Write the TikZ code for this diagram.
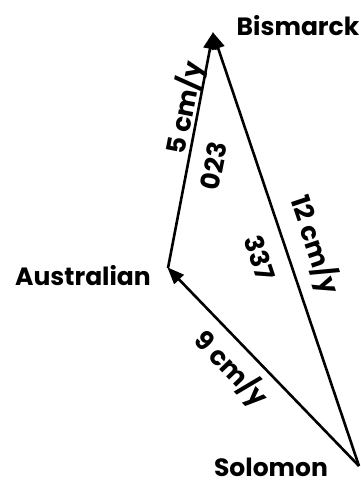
\documentclass[tikz,border=0pt]{standalone}
\usepackage{fontspec}
\setmainfont{Poppins}
\usetikzlibrary{arrows.meta}

\begin{document}
\begin{tikzpicture}[
    x=1pt, y=-1pt,
    place/.style={font=\fontsize{25}{28}\selectfont\bfseries, inner sep=0pt},
    rate/.style={font=\fontsize{26}{28}\selectfont\bfseries, inner sep=0pt},
    motion/.style={-{Triangle[length=17pt,width=13pt]}, line width=2.6pt, shorten >=-1pt}
  ]
    \useasboundingbox (0,0) rectangle (361,485);
    \coordinate (bis) at (213,33);
    \coordinate (aus) at (168,268);
    \coordinate (sol) at (359,466);
    \node[place] (bisname) at (298,26) {Bismarck};
    \node[place] (ausname) at (83,276) {Australian};
    \node[place] (solname) at (271,467) {Solomon};
    \draw[motion] (aus) -- (bis);
    \draw[motion] (sol) -- (bis);
    \draw[motion] (sol) -- (aus);
    \node[rate, rotate=79] (r5) at (185,108) {5 cm/y};
    \node[rate, rotate=79] (a023) at (214,166) {023};
    \node[rate, rotate=-71.4] (r12) at (315,245) {12 cm/y};
    \node[rate, rotate=-71.4] (a337) at (260,258) {337};
    \node[rate, rotate=-46] (r9) at (231,369) {9 cm/y};
  \end{tikzpicture}
\end{document}
